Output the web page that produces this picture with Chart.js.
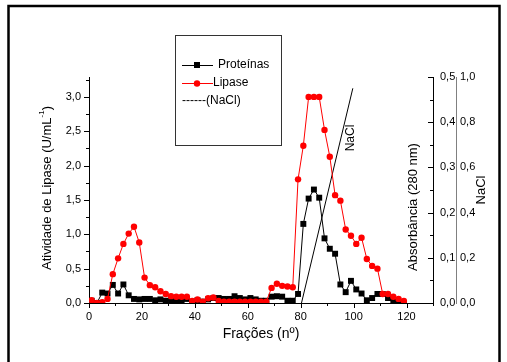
<!DOCTYPE html>
<html>
<head>
<meta charset="utf-8">
<script src="https://cdn.jsdelivr.net/npm/chart.js@4.4.1/dist/chart.umd.min.js"></script>
<style>
  body { margin: 0; background: #fff; }
  #chart { display: block; }
</style>
</head>
<body>
<canvas id="chart" width="507" height="362"></canvas>
<script>
// Fraction numbers (x)
const fractions = [1, 3, 5, 7, 9, 11, 13, 15, 17, 19, 21, 23, 25, 27, 29, 31, 33, 35, 37, 39,
  41, 43, 45, 47, 49, 51, 53, 55, 57, 59, 61, 63, 65, 67, 69, 71, 73, 75, 77, 79,
  81, 83, 85, 87, 89, 91, 93, 95, 97, 99, 101, 103, 105, 107, 109, 111, 113, 115, 117, 119];

// Lipase activity (U/mL-1), left axis
const lipase = [0.04, 0.0, 0.01, 0.06, 0.42, 0.65, 0.86, 1.01, 1.11, 0.88,
  0.37, 0.26, 0.23, 0.17, 0.13, 0.10, 0.09, 0.09, 0.09, 0.03,
  0.05, 0.02, 0.07, 0.08, 0.03, 0.02, 0.02, 0.02, 0.02, 0.02,
  0.02, 0.02, 0.02, 0.02, 0.22, 0.28, 0.25, 0.24, 0.23, 1.80,
  2.29, 3.0, 3.0, 3.0, 2.52, 2.13, 1.57, 1.49, 1.07, 0.98,
  0.86, 0.95, 0.64, 0.54, 0.50, 0.13, 0.13, 0.09, 0.06, 0.03];

// Proteins, absorbance at 280 nm (right axis)
const proteinas = [0.005, 0.0, 0.023, 0.021, 0.040, 0.021, 0.041, 0.017, 0.009, 0.008,
  0.009, 0.009, 0.006, 0.008, 0.005, 0.006, 0.006, 0.005, 0.009, 0.003,
  0.006, 0.003, 0.008, 0.011, 0.011, 0.009, 0.009, 0.015, 0.011, 0.008,
  0.011, 0.008, 0.005, 0.005, 0.014, 0.015, 0.014, 0.005, 0.005, 0.020,
  0.175, 0.231, 0.251, 0.233, 0.143, 0.120, 0.109, 0.041, 0.024, 0.049,
  0.030, 0.021, 0.006, 0.011, 0.020, 0.020, 0.011, 0.003, 0.002, 0.0];

// NaCl gradient (second right axis)
const naclX = [80.3, 99.7];
const naclY = [0.0, 0.95];

// Tick values
const xTicks = [0, 20, 40, 60, 80, 100, 120];
const lipaseTicks = [0, 0.5, 1.0, 1.5, 2.0, 2.5, 3.0];
const absTicks = [0, 0.1, 0.2, 0.3, 0.4, 0.5];
const naclTicks = [0, 0.2, 0.4, 0.6, 0.8, 1.0];

const legendTexts = ["Proteínas", "Lipase", "------(NaCl)"];

const FONT = '"Liberation Sans", Arial, sans-serif';
const fmt = (v) => v.toFixed(1).replace(".", ",");

const decor = {
  id: "decor",
  afterDraw(chart) {
    const ctx = chart.ctx;
    const a = chart.chartArea;
    const { x, y, yAbs } = chart.scales;
    ctx.save();

    // outer frame
    ctx.strokeStyle = "#000";
    ctx.lineWidth = 2.5;
    ctx.strokeRect(8.5, 6, 491, 400);

    // major / minor tick marks
    ctx.lineWidth = 1;
    ctx.beginPath();
    for (let i = 0; i <= 13; i++) {
      const px = Math.round(x.getPixelForValue(i * 10)) + 0.5;
      ctx.moveTo(px, a.bottom);
      ctx.lineTo(px, a.bottom + (i % 2 === 0 ? 5 : 3));
    }
    for (let i = 0; i <= 13; i++) {
      const py = Math.round(y.getPixelForValue(i * 0.25)) + 0.5;
      ctx.moveTo(a.left, py);
      ctx.lineTo(a.left - (i % 2 === 0 ? 5 : 3), py);
    }
    for (let i = 0; i <= 10; i++) {
      const py = Math.round(yAbs.getPixelForValue(i * 0.05)) + 0.5;
      ctx.moveTo(a.right, py);
      ctx.lineTo(a.right - (i % 2 === 0 ? 5 : 3), py);
    }
    ctx.stroke();

    // axis titles
    ctx.fillStyle = "#000";
    ctx.textBaseline = "middle";
    ctx.font = "14px " + FONT;
    ctx.textAlign = "center";
    ctx.fillText("Frações (nº)", 261, 334);

    // left title with superscript
    ctx.save();
    ctx.translate(47, 188);
    ctx.rotate(-Math.PI / 2);
    ctx.textAlign = "left";
    const t1 = "Atividade de Lipase (U/mL", sup = "-1", t2 = ")";
    ctx.font = "13px " + FONT;
    const w1 = ctx.measureText(t1).width, w2 = ctx.measureText(t2).width;
    ctx.font = "8px " + FONT;
    const ws = ctx.measureText(sup).width;
    let cx = -(w1 + ws + w2) / 2;
    ctx.font = "13px " + FONT;
    ctx.fillText(t1, cx, 0);
    cx += w1;
    ctx.font = "8px " + FONT;
    ctx.fillText(sup, cx, -5);
    cx += ws;
    ctx.font = "13px " + FONT;
    ctx.fillText(t2, cx, 0);
    ctx.restore();

    // right titles
    ctx.save();
    ctx.translate(413, 207);
    ctx.rotate(-Math.PI / 2);
    ctx.textAlign = "center";
    ctx.font = "13px " + FONT;
    ctx.fillText("Absorbância (280 nm)", 0, 0);
    ctx.restore();

    ctx.save();
    ctx.translate(481, 190);
    ctx.rotate(-Math.PI / 2);
    ctx.textAlign = "center";
    ctx.font = "13px " + FONT;
    ctx.fillText("NaCl", 0, 0);
    ctx.restore();

    // label beside the gradient line
    ctx.save();
    ctx.translate(351, 138);
    ctx.rotate(-Math.PI / 2);
    ctx.textAlign = "center";
    ctx.font = "12px " + FONT;
    ctx.fillText("NaCl", 0, 0);
    ctx.restore();

    // legend box
    ctx.strokeStyle = "#333";
    ctx.lineWidth = 1;
    ctx.strokeRect(175.5, 35.5, 106, 110);
    ctx.font = "12px " + FONT;
    ctx.textAlign = "left";

    // Proteínas
    ctx.strokeStyle = "#000";
    ctx.beginPath();
    ctx.moveTo(182, 65.5);
    ctx.lineTo(213, 65.5);
    ctx.stroke();
    ctx.fillStyle = "#000";
    ctx.fillRect(194, 62, 6, 6);
    ctx.fillText(legendTexts[0], 218, 65);

    // Lipase
    ctx.strokeStyle = "#ff0000";
    ctx.beginPath();
    ctx.moveTo(182, 83.5);
    ctx.lineTo(213, 83.5);
    ctx.stroke();
    ctx.fillStyle = "#ff0000";
    ctx.beginPath();
    ctx.arc(197, 83.5, 3.2, 0, Math.PI * 2);
    ctx.fill();
    ctx.fillStyle = "#000";
    ctx.fillText(legendTexts[1], 213, 83);

    ctx.fillText(legendTexts[2], 182, 101);

    ctx.restore();
  },
};

const tickFont = { family: FONT, size: 11 };

new Chart(document.getElementById("chart"), {
  type: "line",
  data: {
    datasets: [
      {
        label: "Lipase",
        data: fractions.map((f, i) => ({ x: f, y: lipase[i] })),
        yAxisID: "y",
        borderColor: "#ff0000",
        backgroundColor: "#ff0000",
        borderWidth: 1,
        pointStyle: "circle",
        pointRadius: 3.2,
        pointBorderWidth: 0,
        order: 0,
      },
      {
        label: "Proteínas",
        data: fractions.map((f, i) => ({ x: f, y: proteinas[i] })),
        yAxisID: "yAbs",
        borderColor: "#000",
        backgroundColor: "#000",
        borderWidth: 1,
        pointStyle: "rect",
        pointRadius: 4.2,
        pointBorderWidth: 0,
        order: 1,
      },
      {
        label: "NaCl",
        data: naclX.map((v, i) => ({ x: v, y: naclY[i] })),
        yAxisID: "yNaCl",
        borderColor: "#000",
        borderWidth: 1,
        pointRadius: 0,
        order: 2,
      },
    ],
  },
  options: {
    responsive: false,
    animation: false,
    devicePixelRatio: 1,
    layout: { padding: { top: 77, left: 0, right: 0, bottom: 0 } },
    plugins: { legend: { display: false }, tooltip: { enabled: false } },
    scales: {
      x: {
        type: "linear",
        min: 0,
        max: 130,
        grid: { display: false, drawTicks: false },
        border: { color: "#000", width: 1 },
        afterBuildTicks: (s) => { s.ticks = xTicks.map((v) => ({ value: v })); },
        ticks: { color: "#000", font: tickFont, padding: 7, maxRotation: 0, autoSkip: false },
        afterFit: (s) => { s.height = 59; },
      },
      y: {
        position: "left",
        min: 0,
        max: 3.29,
        grid: { display: false, drawTicks: false },
        border: { color: "#000", width: 1 },
        afterBuildTicks: (s) => { s.ticks = lipaseTicks.map((v) => ({ value: v })); },
        ticks: { color: "#000", font: tickFont, padding: 8, callback: (v) => fmt(v) },
        afterFit: (s) => { s.width = 89; },
      },
      yAbs: {
        position: "right",
        weight: 0,
        min: 0,
        max: 0.5,
        grid: { display: false, drawTicks: false },
        border: { color: "#000", width: 1 },
        afterBuildTicks: (s) => { s.ticks = absTicks.map((v) => ({ value: v })); },
        ticks: { color: "#000", font: tickFont, padding: 7, callback: (v) => fmt(v) },
        afterFit: (s) => { s.width = 23; },
      },
      yNaCl: {
        position: "right",
        weight: 1,
        min: 0,
        max: 1,
        grid: { display: false, drawTicks: false },
        border: { color: "#808080", width: 1 },
        afterBuildTicks: (s) => { s.ticks = naclTicks.map((v) => ({ value: v })); },
        ticks: { color: "#000", font: tickFont, padding: 4, callback: (v) => fmt(v) },
        afterFit: (s) => { s.width = 51; },
      },
    },
  },
  plugins: [decor],
});
</script>
</body>
</html>
